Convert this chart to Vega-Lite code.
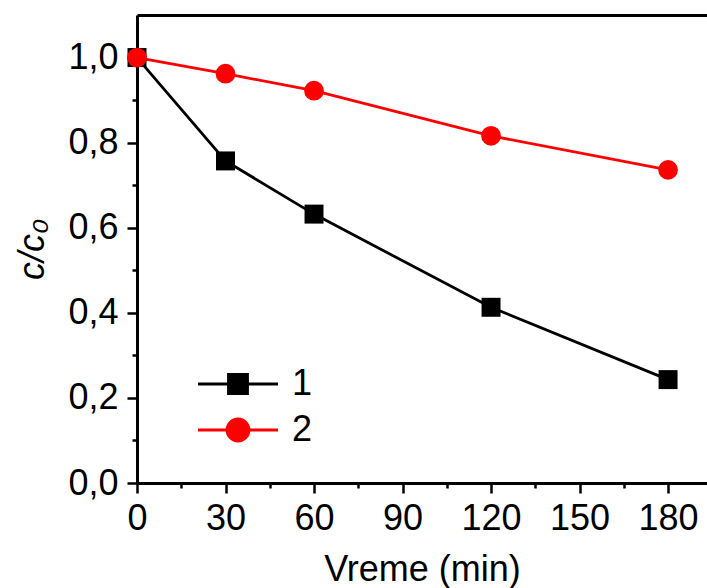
{
  "$schema": "https://vega.github.io/schema/vega-lite/v6.json",
  "width": 570,
  "height": 468,
  "autosize": "none",
  "padding": {"left": 137, "top": 15, "right": 0, "bottom": 105},
  "background": "white",
  "config": {
    "view": {"stroke": null},
    "font": "Liberation Sans",
    "axis": {"grid": false, "domainColor": "black", "tickColor": "black", "labelColor": "black", "titleColor": "black", "labelFont": "Liberation Sans", "titleFont": "Liberation Sans", "labelFontSize": 36, "titleFontSize": 36, "titleFontWeight": "normal", "domainWidth": 3, "tickWidth": 2.5}
  },
  "data": {"values": [
    {"t": 0, "c": 1.0, "series": "1"},
    {"t": 30, "c": 0.757, "series": "1"},
    {"t": 60, "c": 0.632, "series": "1"},
    {"t": 120, "c": 0.413, "series": "1"},
    {"t": 180, "c": 0.243, "series": "1"},
    {"t": 0, "c": 1.0, "series": "2"},
    {"t": 30, "c": 0.962, "series": "2"},
    {"t": 60, "c": 0.922, "series": "2"},
    {"t": 120, "c": 0.816, "series": "2"},
    {"t": 180, "c": 0.736, "series": "2"}
  ]},
  "resolve": {"axis": {"x": "independent"}},
  "layer": [
    {
      "mark": {"type": "line", "strokeWidth": 2.8},
      "encoding": {
        "x": {"field": "t", "type": "quantitative", "scale": {"domain": [0, 193.2], "nice": false, "zero": false},
          "axis": {"orient": "bottom", "title": "Vreme (min)", "values": [0, 15, 30, 45, 60, 75, 90, 105, 120, 135, 150, 165, 180],
            "tickSize": {"condition": {"test": "datum.value % 30 === 0", "value": 10}, "value": 5},
            "labelFontSize": 36, "titleFontSize": 36,
            "labelExpr": "datum.value % 30 === 0 ? datum.label : ''", "labelPadding": 8, "titlePadding": 16, "labelFlush": false, "labelOverlap": false}},
        "y": {"field": "c", "type": "quantitative", "scale": {"domain": [0, 1.1], "nice": false},
          "axis": {"title": "c/c₀", "titleFontStyle": "italic", "values": [0, 0.1, 0.2, 0.3, 0.4, 0.5, 0.6, 0.7, 0.8, 0.9, 1.0],
            "labelFontSize": 36, "titleFontSize": 36,
            "tickSize": {"condition": {"test": "round(datum.value*10) % 2 === 0", "value": 10}, "value": 5},
            "labelExpr": "round(datum.value*10) % 2 === 0 ? replace(format(datum.value, '.1f'), '.', ',') : ''", "labelPadding": 9, "titlePadding": 16, "labelFlush": false, "labelOverlap": false}},
        "color": {"field": "series", "type": "nominal", "scale": {"domain": ["1", "2"], "range": ["black", "#ff0000"]},
          "legend": {"title": null, "orient": "none", "legendX": 83, "legendY": 351, "padding": 0, "labelFontSize": 36, "labelFont": "Liberation Sans", "labelColor": "black", "labelOffset": 36, "rowPadding": 10, "symbolSize": 400,
            "encode": {"symbols": {"update": {
              "shape": {"signal": "datum.value === '1' ? 'M-4,0H4M-0.95,-0.95H0.95V0.95H-0.95Z' : 'M-4,0H4M-1.1,0A1.1,1.1 0 1,0 1.1,0A1.1,1.1 0 1,0 -1.1,0Z'"},
              "fill": {"signal": "datum.value === '1' ? 'black' : '#ff0000'"},
              "stroke": {"signal": "datum.value === '1' ? 'black' : '#ff0000'"},
              "strokeWidth": {"value": 2.8},
              "fillOpacity": {"value": 1},
              "opacity": {"value": 1}
            }}}}}
      }
    },
    {
      "mark": {"type": "point", "filled": true, "opacity": 1},
      "encoding": {
        "x": {"field": "t", "type": "quantitative", "scale": {"domain": [0, 193.2], "nice": false, "zero": false},
          "axis": {"orient": "top", "title": null, "labels": false, "ticks": false, "domainWidth": 3}},
        "y": {"field": "c", "type": "quantitative"},
        "color": {"condition": {"test": "datum.series === '1'", "value": "black"}, "value": "#ff0000"},
        "shape": {"condition": {"test": "datum.series === '1'", "value": "square"}, "value": "circle"},
        "size": {"condition": {"test": "datum.series === '1'", "value": 360}, "value": 390}
      }
    }
  ]
}
